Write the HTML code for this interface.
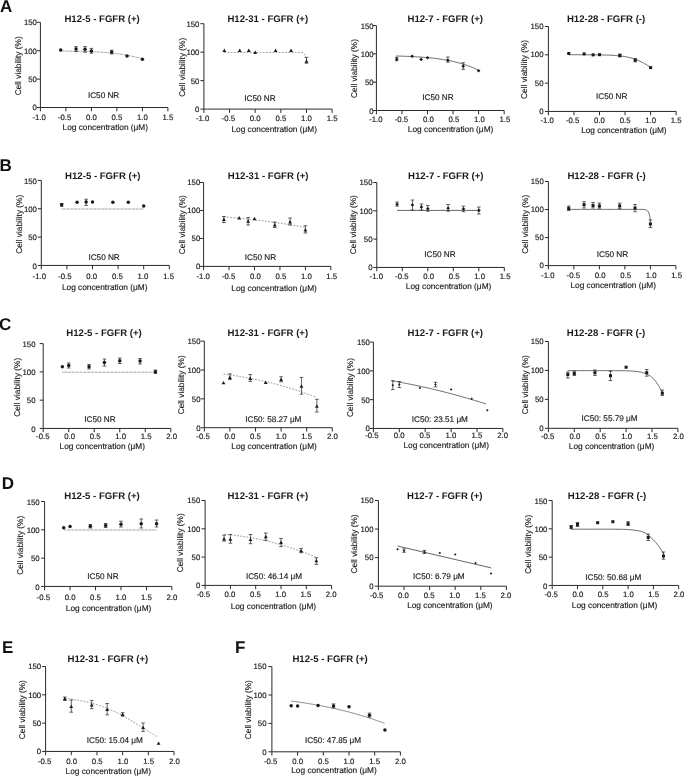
<!DOCTYPE html>
<html><head><meta charset="utf-8"><style>
html,body{margin:0;padding:0;background:#fff;}
body{width:685px;height:776px;overflow:hidden;}
svg{display:block;filter:grayscale(1);}
text{font-family:"Liberation Sans",sans-serif;fill:#1a1a1a;text-rendering:geometricPrecision;}
.t{font-size:7.8px;stroke:#1a1a1a;stroke-width:0.16px;}
.a{font-size:8.3px;stroke:#1a1a1a;stroke-width:0.15px;}
.h{font-size:9.6px;font-weight:bold;}
.n{font-size:8.2px;stroke:#1a1a1a;stroke-width:0.15px;}
.p{font-size:17px;font-weight:bold;fill:#111;}
.ax{fill:none;stroke:#2a2a2a;stroke-width:1;}
.eb{fill:none;stroke:#222;stroke-width:0.7;}
.mk{fill:#1a1a1a;}
.cl{fill:none;stroke:#333;stroke-width:0.75;}
.cd{fill:none;stroke:#6a6a6a;stroke-width:0.9;stroke-dasharray:0.75 0.6;}
.cs{fill:none;stroke:#6e6e6e;stroke-width:0.75;stroke-dasharray:1.7 1.5;}
.cf{fill:none;stroke:#555;stroke-width:0.7;}
</style></head><body>
<svg width="685" height="776" viewBox="0 0 685 776">
<g><path class="ax" d="M40.4 22.3V107.5H167.9M36.9 107.5H40.4M36.9 79.1H40.4M36.9 50.7H40.4M36.9 22.3H40.4M40.4 107.5v3.8M65.9 107.5v3.8M91.4 107.5v3.8M116.9 107.5v3.8M142.4 107.5v3.8M167.9 107.5v3.8"/><text class="t" x="36.9" y="110.37" text-anchor="end">0</text><text class="t" x="36.9" y="81.97" text-anchor="end">50</text><text class="t" x="36.9" y="53.57" text-anchor="end">100</text><text class="t" x="36.9" y="25.17" text-anchor="end">150</text><text class="t" x="45.82" y="119.8" text-anchor="end">-1.0</text><text class="t" x="71.32" y="119.8" text-anchor="end">-0.5</text><text class="t" x="96.82" y="119.8" text-anchor="end">0.0</text><text class="t" x="122.32" y="119.8" text-anchor="end">0.5</text><text class="t" x="147.82" y="119.8" text-anchor="end">1.0</text><text class="t" x="173.32" y="119.8" text-anchor="end">1.5</text><text class="a" x="105.3" y="130.4" text-anchor="middle">Log concentration (μM)</text><text class="a" transform="translate(20.8 65.85) rotate(-90)" text-anchor="middle">Cell viability (%)</text><text class="h" x="64.4" y="21.9">H12-5 - FGFR (+)</text><text class="n" x="87.9" y="97.82">IC50 NR</text><path class="cd" d="M60.6 51.04L61.52 51.05L62.45 51.06L63.37 51.07L64.3 51.08L65.22 51.08L66.15 51.09L67.07 51.1L68 51.11L68.92 51.13L69.85 51.14L70.77 51.15L71.7 51.16L72.62 51.17L73.55 51.19L74.47 51.2L75.4 51.22L76.32 51.23L77.24 51.25L78.17 51.27L79.09 51.29L80.02 51.31L80.94 51.33L81.87 51.35L82.77 51.37L83.67 51.4L84.57 51.42L85.47 51.45L86.37 51.47L87.27 51.5L88.17 51.53L89.07 51.56L89.97 51.6L90.87 51.63L91.77 51.67L92.67 51.7L93.56 51.74L94.46 51.79L95.36 51.83L96.26 51.87L97.16 51.92L98.06 51.97L98.96 52.02L99.86 52.08L100.76 52.13L101.66 52.19L102.56 52.25L103.46 52.32L104.36 52.39L105.26 52.46L106.16 52.53L107.06 52.6L107.96 52.68L108.86 52.77L109.76 52.85L110.66 52.94L111.56 53.04L112.46 53.13L113.36 53.23L114.26 53.34L115.16 53.45L116.06 53.56L116.96 53.68L117.86 53.8L118.76 53.92L119.66 54.05L120.56 54.19L121.46 54.32L122.36 54.47L123.26 54.61L124.16 54.77L125.06 54.92L125.96 55.08L126.85 55.25L127.75 55.42L128.65 55.59L129.55 55.77L130.45 55.95L131.35 56.14L132.25 56.33L133.15 56.53L134.05 56.73L134.95 56.93L135.85 57.14L136.75 57.35L137.65 57.56L138.55 57.78L139.43 57.99L140.3 58.2L141.18 58.42L142.05 58.64L142.6 58.78"/><path class="eb" d="M76.05 46.6V51.6M74.25 46.6h3.6M74.25 51.6h3.6M85.03 46.6V52.2M83.23 46.6h3.6M83.23 52.2h3.6M91.4 48.4V53.2M89.6 48.4h3.6M89.6 53.2h3.6M111.7 50.2V54M109.9 50.2h3.6M109.9 54h3.6"/><g class="mk"><circle cx="60.7" cy="50.1" r="1.75"/><circle cx="76.05" cy="49.1" r="1.75"/><circle cx="85.03" cy="49.3" r="1.75"/><circle cx="91.4" cy="50.9" r="1.75"/><circle cx="111.7" cy="52.1" r="1.75"/><circle cx="127.05" cy="56" r="1.75"/><circle cx="142.4" cy="59.2" r="1.75"/></g></g>
<g><path class="ax" d="M203.9 23.7V109.1H332.15M200.4 109.1H203.9M200.4 80.63H203.9M200.4 52.17H203.9M200.4 23.7H203.9M203.9 109.1v3.8M229.55 109.1v3.8M255.2 109.1v3.8M280.85 109.1v3.8M306.5 109.1v3.8M332.15 109.1v3.8"/><text class="t" x="199.4" y="112.12" text-anchor="end">0</text><text class="t" x="199.4" y="83.65" text-anchor="end">50</text><text class="t" x="199.4" y="55.19" text-anchor="end">100</text><text class="t" x="199.4" y="26.72" text-anchor="end">150</text><text class="t" x="209.32" y="121" text-anchor="end">-1.0</text><text class="t" x="234.97" y="121" text-anchor="end">-0.5</text><text class="t" x="260.62" y="121" text-anchor="end">0.0</text><text class="t" x="286.27" y="121" text-anchor="end">0.5</text><text class="t" x="311.92" y="121" text-anchor="end">1.0</text><text class="t" x="337.57" y="121" text-anchor="end">1.5</text><text class="a" x="274.2" y="131.5" text-anchor="middle">Log concentration (μM)</text><text class="a" transform="translate(184.5 67.25) rotate(-90)" text-anchor="middle">Cell viability (%)</text><text class="h" x="227.4" y="21.9">H12-31 - FGFR (+)</text><text class="n" x="244.2" y="100.82">IC50 NR</text><path class="cs" d="M224.4 52.5L225.3 52.5L226.2 52.5L227.12 52.5L228.03 52.5L228.93 52.5L229.83 52.5L230.75 52.5L231.65 52.5L232.55 52.5L233.47 52.5L234.38 52.5L235.28 52.5L236.18 52.5L237.1 52.5L238 52.5L238.9 52.5L239.8 52.5L240.72 52.5L241.62 52.5L242.53 52.5L243.43 52.5L244.35 52.5L245.25 52.5L246.15 52.5L247.05 52.5L247.97 52.5L248.88 52.5L249.78 52.5L250.68 52.5L251.6 52.5L252.5 52.5L253.4 52.5L254.32 52.5L255.22 52.5L256.12 52.5L257.05 52.5L257.98 52.5L258.9 52.5L259.8 52.5L260.73 52.5L261.65 52.5L262.55 52.5L263.48 52.5L264.4 52.5L265.3 52.5L266.22 52.5L267.12 52.5L268.05 52.5L268.97 52.5L269.88 52.5L270.8 52.5L271.72 52.5L272.62 52.5L273.55 52.5L274.47 52.5L275.38 52.5L276.3 52.5L277.22 52.5L278.12 52.5L279.05 52.5L279.95 52.5L280.88 52.5L281.8 52.5L282.7 52.5L283.62 52.5L284.55 52.5L285.45 52.5L286.38 52.5L287.3 52.5L288.2 52.5L289.12 52.5L290.05 52.5L290.95 52.5L291.88 52.5L292.8 52.5L293.7 52.5L294.62 52.5L295.55 52.5L296.45 52.5L297.38 52.5L298.3 52.5L299.2 52.5L300.12 52.5L301.02 52.51L301.92 52.57L302.82 52.75L303.6 53.23L304.2 53.95L304.72 54.74L305.17 55.54L305.55 56.38L305.88 57.23L306.17 58.09L306.4 58.8"/><path class="eb" d="M306.5 57.4V63.2M304.7 57.4h3.6M304.7 63.2h3.6"/><g class="mk"><path d="M224.32 48.6L226.22 52.02L222.42 52.02Z"/><path d="M239.76 48.6L241.66 52.02L237.86 52.02Z"/><path d="M248.79 48.6L250.69 52.02L246.89 52.02Z"/><path d="M255.2 50.6L257.1 54.02L253.3 54.02Z"/><path d="M275.62 48.6L277.52 52.02L273.72 52.02Z"/><path d="M291.06 48.6L292.96 52.02L289.16 52.02Z"/><path d="M306.5 59.3L308.4 62.72L304.6 62.72Z"/></g></g>
<g><path class="ax" d="M376.4 25.5V110.5H504.15M372.9 110.5H376.4M372.9 82.17H376.4M372.9 53.83H376.4M372.9 25.5H376.4M376.4 110.5v3.8M401.95 110.5v3.8M427.5 110.5v3.8M453.05 110.5v3.8M478.6 110.5v3.8M504.15 110.5v3.8"/><text class="t" x="373.7" y="113.77" text-anchor="end">0</text><text class="t" x="373.7" y="85.44" text-anchor="end">50</text><text class="t" x="373.7" y="57.1" text-anchor="end">100</text><text class="t" x="373.7" y="28.77" text-anchor="end">150</text><text class="t" x="382.62" y="122.4" text-anchor="end">-1.0</text><text class="t" x="408.17" y="122.4" text-anchor="end">-0.5</text><text class="t" x="433.72" y="122.4" text-anchor="end">0.0</text><text class="t" x="459.27" y="122.4" text-anchor="end">0.5</text><text class="t" x="484.82" y="122.4" text-anchor="end">1.0</text><text class="t" x="510.37" y="122.4" text-anchor="end">1.5</text><text class="a" x="450.6" y="132" text-anchor="middle">Log concentration (μM)</text><text class="a" transform="translate(356.5 68.55) rotate(-90)" text-anchor="middle">Cell viability (%)</text><text class="h" x="407.5" y="21.9">H12-7 - FGFR (+)</text><text class="n" x="422.2" y="100.02">IC50 NR</text><path class="cl" d="M395.8 55.99L396.7 56.01L397.6 56.04L398.5 56.06L399.4 56.09L400.3 56.12L401.2 56.14L402.1 56.17L403 56.2L403.9 56.23L404.8 56.27L405.7 56.3L406.6 56.33L407.5 56.37L408.4 56.41L409.3 56.45L410.2 56.49L411.1 56.53L412 56.57L412.89 56.62L413.79 56.66L414.69 56.71L415.59 56.76L416.49 56.81L417.39 56.87L418.29 56.92L419.19 56.98L420.09 57.04L420.99 57.1L421.89 57.17L422.79 57.23L423.69 57.3L424.59 57.37L425.49 57.45L426.39 57.52L427.29 57.6L428.19 57.68L429.09 57.77L429.99 57.86L430.89 57.95L431.79 58.04L432.69 58.14L433.59 58.24L434.49 58.34L435.39 58.45L436.29 58.56L437.19 58.68L438.09 58.8L438.99 58.92L439.89 59.05L440.79 59.18L441.69 59.31L442.59 59.45L443.49 59.6L444.39 59.75L445.29 59.9L446.18 60.06L447.08 60.23L447.98 60.39L448.88 60.57L449.78 60.75L450.68 60.94L451.58 61.13L452.48 61.33L453.38 61.53L454.28 61.74L455.18 61.96L456.06 62.17L456.93 62.39L457.81 62.62L458.68 62.86L459.56 63.1L460.43 63.35L461.31 63.6L462.18 63.86L463.05 64.13L463.93 64.41L464.8 64.69L465.68 64.98L466.55 65.27L467.43 65.58L468.28 65.88L469.13 66.19L469.98 66.5L470.83 66.83L471.68 67.16L472.53 67.49L473.38 67.84L474.23 68.19L475.08 68.55L475.93 68.91L476.75 69.27L477.58 69.64L478.4 70.01L478.6 70.1"/><path class="eb" d="M396.74 57.4V60.8M394.94 57.4h3.6M394.94 60.8h3.6M447.84 57V62.2M446.04 57h3.6M446.04 62.2h3.6M463.22 62.8V69.4M461.42 62.8h3.6M461.42 69.4h3.6"/><g class="mk"><path d="M396.74 57.4L398.54 59.2L396.74 61L394.94 59.2Z"/><path d="M412.12 54.5L413.92 56.3L412.12 58.1L410.32 56.3Z"/><path d="M421.11 57.6L422.91 59.4L421.11 61.2L419.31 59.4Z"/><path d="M427.5 56L429.3 57.8L427.5 59.6L425.7 57.8Z"/><path d="M447.84 58.4L449.64 60.2L447.84 62L446.04 60.2Z"/><path d="M463.22 64.4L465.02 66.2L463.22 68L461.42 66.2Z"/><path d="M478.6 68.9L480.4 70.7L478.6 72.5L476.8 70.7Z"/></g></g>
<g><path class="ax" d="M548.4 26.5V111.45H676.15M544.9 111.45H548.4M544.9 83.13H548.4M544.9 54.82H548.4M544.9 26.5H548.4M548.4 111.45v3.8M573.95 111.45v3.8M599.5 111.45v3.8M625.05 111.45v3.8M650.6 111.45v3.8M676.15 111.45v3.8"/><text class="t" x="543.5" y="114.12" text-anchor="end">0</text><text class="t" x="543.5" y="85.8" text-anchor="end">50</text><text class="t" x="543.5" y="57.49" text-anchor="end">100</text><text class="t" x="543.5" y="29.17" text-anchor="end">150</text><text class="t" x="553.82" y="122.8" text-anchor="end">-1.0</text><text class="t" x="579.37" y="122.8" text-anchor="end">-0.5</text><text class="t" x="604.92" y="122.8" text-anchor="end">0.0</text><text class="t" x="630.47" y="122.8" text-anchor="end">0.5</text><text class="t" x="656.02" y="122.8" text-anchor="end">1.0</text><text class="t" x="681.57" y="122.8" text-anchor="end">1.5</text><text class="a" x="623.9" y="133" text-anchor="middle">Log concentration (μM)</text><text class="a" transform="translate(526.9 69.45) rotate(-90)" text-anchor="middle">Cell viability (%)</text><text class="h" x="566.9" y="21.9">H12-28 - FGFR (-)</text><text class="n" x="596" y="99.32">IC50 NR</text><path class="cl" d="M568.8 54.73L569.72 54.73L570.65 54.73L571.57 54.73L572.5 54.73L573.42 54.73L574.35 54.74L575.27 54.74L576.2 54.74L577.12 54.74L578.05 54.74L578.97 54.74L579.9 54.75L580.82 54.75L581.75 54.75L582.67 54.75L583.6 54.76L584.52 54.76L585.44 54.76L586.37 54.77L587.29 54.77L588.22 54.78L589.14 54.78L590.07 54.79L590.99 54.79L591.92 54.8L592.84 54.81L593.77 54.82L594.69 54.83L595.62 54.84L596.54 54.85L597.47 54.86L598.39 54.87L599.32 54.89L600.24 54.9L601.17 54.92L602.09 54.94L603.01 54.96L603.94 54.98L604.84 55L605.74 55.03L606.64 55.06L607.54 55.09L608.44 55.12L609.34 55.16L610.24 55.19L611.14 55.24L612.04 55.28L612.94 55.33L613.84 55.39L614.74 55.45L615.64 55.51L616.54 55.59L617.44 55.66L618.33 55.75L619.23 55.84L620.13 55.93L621.03 56.04L621.93 56.16L622.83 56.28L623.73 56.41L624.63 56.56L625.53 56.71L626.43 56.88L627.33 57.06L628.23 57.26L629.13 57.46L630.01 57.68L630.88 57.91L631.76 58.16L632.63 58.42L633.51 58.7L634.38 58.99L635.23 59.3L636.08 59.62L636.93 59.95L637.78 60.3L638.63 60.67L639.45 61.04L640.28 61.43L641.1 61.83L641.93 62.25L642.73 62.66L643.53 63.09L644.33 63.53L645.13 63.97L645.93 64.43L646.73 64.89L647.53 65.36L648.3 65.82L649.08 66.29L649.85 66.75L650.6 67.2"/><path class="eb" d="M619.84 54V57M618.04 54h3.6M618.04 57h3.6M635.22 58.6V61.8M633.42 58.6h3.6M633.42 61.8h3.6"/><g class="mk"><rect x="567.24" y="52" width="3" height="3"/><rect x="582.62" y="52.4" width="3" height="3"/><rect x="591.61" y="53.4" width="3" height="3"/><rect x="598" y="53.2" width="3" height="3"/><rect x="618.34" y="54" width="3" height="3"/><rect x="633.72" y="58.7" width="3" height="3"/><rect x="649.1" y="66.1" width="3" height="3"/></g></g>
<g><path class="ax" d="M41.3 180.4V265.45H169.3M37.8 265.45H41.3M37.8 237.1H41.3M37.8 208.75H41.3M37.8 180.4H41.3M41.3 265.45v3.8M66.9 265.45v3.8M92.5 265.45v3.8M118.1 265.45v3.8M143.7 265.45v3.8M169.3 265.45v3.8"/><text class="t" x="36.9" y="268.72" text-anchor="end">0</text><text class="t" x="36.9" y="240.37" text-anchor="end">50</text><text class="t" x="36.9" y="212.02" text-anchor="end">100</text><text class="t" x="36.9" y="183.67" text-anchor="end">150</text><text class="t" x="45.97" y="278.5" text-anchor="end">-1.0</text><text class="t" x="71.57" y="278.5" text-anchor="end">-0.5</text><text class="t" x="97.17" y="278.5" text-anchor="end">0.0</text><text class="t" x="122.77" y="278.5" text-anchor="end">0.5</text><text class="t" x="148.37" y="278.5" text-anchor="end">1.0</text><text class="t" x="173.97" y="278.5" text-anchor="end">1.5</text><text class="a" x="104.7" y="290" text-anchor="middle">Log concentration (μM)</text><text class="a" transform="translate(21.5 224.25) rotate(-90)" text-anchor="middle">Cell viability (%)</text><text class="h" x="65.1" y="179">H12-5 - FGFR (+)</text><text class="n" x="88.4" y="259.52">IC50 NR</text><path class="cd" d="M61.6 209L144 209"/><path class="eb" d="M61.68 203.5V206.3M59.88 203.5h3.6M59.88 206.3h3.6M86.1 199.2V205.4M84.3 199.2h3.6M84.3 205.4h3.6"/><g class="mk"><circle cx="61.68" cy="204.8" r="1.75"/><circle cx="77.09" cy="202.2" r="1.75"/><circle cx="86.1" cy="202" r="1.75"/><circle cx="92.5" cy="202" r="1.75"/><circle cx="112.88" cy="202.2" r="1.75"/><circle cx="128.29" cy="202.2" r="1.75"/><circle cx="143.7" cy="206" r="1.75"/></g></g>
<g><path class="ax" d="M203.6 182.5V266.4H330.85M200.1 266.4H203.6M200.1 238.43H203.6M200.1 210.47H203.6M200.1 182.5H203.6M203.6 266.4v3.8M229.05 266.4v3.8M254.5 266.4v3.8M279.95 266.4v3.8M305.4 266.4v3.8M330.85 266.4v3.8"/><text class="t" x="200.3" y="268.72" text-anchor="end">0</text><text class="t" x="200.3" y="240.75" text-anchor="end">50</text><text class="t" x="200.3" y="212.79" text-anchor="end">100</text><text class="t" x="200.3" y="184.82" text-anchor="end">150</text><text class="t" x="209.92" y="278.9" text-anchor="end">-1.0</text><text class="t" x="235.37" y="278.9" text-anchor="end">-0.5</text><text class="t" x="260.82" y="278.9" text-anchor="end">0.0</text><text class="t" x="286.27" y="278.9" text-anchor="end">0.5</text><text class="t" x="311.72" y="278.9" text-anchor="end">1.0</text><text class="t" x="337.17" y="278.9" text-anchor="end">1.5</text><text class="a" x="274.1" y="290.5" text-anchor="middle">Log concentration (μM)</text><text class="a" transform="translate(184.8 224.65) rotate(-90)" text-anchor="middle">Cell viability (%)</text><text class="h" x="227.8" y="179">H12-31 - FGFR (+)</text><text class="n" x="244.8" y="259.52">IC50 NR</text><path class="cs" d="M223.7 216.71L224.6 216.79L225.5 216.87L226.4 216.95L227.3 217.04L228.2 217.12L229.1 217.2L230 217.29L230.9 217.37L231.8 217.46L232.7 217.54L233.6 217.63L234.5 217.72L235.4 217.81L236.3 217.9L237.2 217.99L238.1 218.08L239 218.17L239.9 218.26L240.79 218.35L241.69 218.45L242.59 218.54L243.49 218.64L244.39 218.73L245.29 218.83L246.19 218.93L247.09 219.02L247.99 219.12L248.89 219.22L249.79 219.32L250.69 219.42L251.59 219.53L252.49 219.63L253.39 219.73L254.29 219.84L255.19 219.94L256.09 220.05L256.99 220.16L257.89 220.26L258.79 220.37L259.69 220.48L260.59 220.59L261.49 220.71L262.39 220.82L263.29 220.93L264.19 221.04L265.09 221.16L265.99 221.28L266.89 221.39L267.79 221.51L268.69 221.63L269.59 221.75L270.49 221.87L271.39 221.99L272.29 222.11L273.18 222.24L274.08 222.36L274.98 222.49L275.88 222.61L276.78 222.74L277.68 222.87L278.58 223L279.48 223.13L280.38 223.26L281.28 223.39L282.18 223.53L283.08 223.66L283.98 223.8L284.88 223.94L285.78 224.07L286.68 224.21L287.58 224.35L288.48 224.49L289.38 224.64L290.28 224.78L291.18 224.93L292.08 225.07L292.98 225.22L293.88 225.37L294.78 225.52L295.68 225.67L296.58 225.82L297.48 225.97L298.38 226.13L299.28 226.28L300.18 226.44L301.08 226.6L301.98 226.76L302.88 226.92L303.78 227.08L304.68 227.24L305.58 227.41L306 227.48"/><path class="eb" d="M223.86 216.5V222.5M222.06 216.5h3.6M222.06 222.5h3.6M248.14 217.5V225M246.34 217.5h3.6M246.34 225h3.6M274.76 222V227.5M272.96 222h3.6M272.96 227.5h3.6M290.08 218V225M288.28 218h3.6M288.28 225h3.6M305.4 225.7V233M303.6 225.7h3.6M303.6 233h3.6"/><g class="mk"><path d="M223.86 217.6L225.76 221.02L221.96 221.02Z"/><path d="M239.18 216.1L241.08 219.52L237.28 219.52Z"/><path d="M248.14 219.3L250.04 222.72L246.24 222.72Z"/><path d="M254.5 216.8L256.4 220.22L252.6 220.22Z"/><path d="M274.76 223.1L276.66 226.52L272.86 226.52Z"/><path d="M290.08 220.1L291.98 223.52L288.18 223.52Z"/><path d="M305.4 228.1L307.3 231.52L303.5 231.52Z"/></g></g>
<g><path class="ax" d="M376.8 182.5V267.45H504.3M373.3 267.45H376.8M373.3 239.13H376.8M373.3 210.82H376.8M373.3 182.5H376.8M376.8 267.45v3.8M402.3 267.45v3.8M427.8 267.45v3.8M453.3 267.45v3.8M478.8 267.45v3.8M504.3 267.45v3.8"/><text class="t" x="372.5" y="270.32" text-anchor="end">0</text><text class="t" x="372.5" y="242" text-anchor="end">50</text><text class="t" x="372.5" y="213.69" text-anchor="end">100</text><text class="t" x="372.5" y="185.37" text-anchor="end">150</text><text class="t" x="382.97" y="279" text-anchor="end">-1.0</text><text class="t" x="408.47" y="279" text-anchor="end">-0.5</text><text class="t" x="433.97" y="279" text-anchor="end">0.0</text><text class="t" x="459.47" y="279" text-anchor="end">0.5</text><text class="t" x="484.97" y="279" text-anchor="end">1.0</text><text class="t" x="510.47" y="279" text-anchor="end">1.5</text><text class="a" x="448.6" y="289.2" text-anchor="middle">Log concentration (μM)</text><text class="a" transform="translate(355.9 224.65) rotate(-90)" text-anchor="middle">Cell viability (%)</text><text class="h" x="408.1" y="179">H12-7 - FGFR (+)</text><text class="n" x="424.3" y="257.02">IC50 NR</text><path class="cl" d="M397 210.4L480.5 210.4"/><path class="eb" d="M397.1 202V206.2M395.3 202h3.6M395.3 206.2h3.6M412.45 200V210M410.65 200h3.6M410.65 210h3.6M421.43 204V210M419.62 204h3.6M419.62 210h3.6M427.8 205.5V211.2M426 205.5h3.6M426 211.2h3.6M448.1 204.5V211.2M446.3 204.5h3.6M446.3 211.2h3.6M463.45 206.2V211.7M461.65 206.2h3.6M461.65 211.7h3.6M478.8 207V214M477 207h3.6M477 214h3.6"/><g class="mk"><path d="M397.1 202.4L398.9 204.2L397.1 206L395.3 204.2Z"/><path d="M412.45 203.2L414.25 205L412.45 206.8L410.65 205Z"/><path d="M421.43 205.2L423.23 207L421.43 208.8L419.62 207Z"/><path d="M427.8 206.9L429.6 208.7L427.8 210.5L426 208.7Z"/><path d="M448.1 206.4L449.9 208.2L448.1 210L446.3 208.2Z"/><path d="M463.45 207.2L465.25 209L463.45 210.8L461.65 209Z"/><path d="M478.8 208.6L480.6 210.4L478.8 212.2L477 210.4Z"/></g></g>
<g><path class="ax" d="M548.4 181.5V265.6H675.9M544.9 265.6H548.4M544.9 237.57H548.4M544.9 209.53H548.4M544.9 181.5H548.4M548.4 265.6v3.8M573.9 265.6v3.8M599.4 265.6v3.8M624.9 265.6v3.8M650.4 265.6v3.8M675.9 265.6v3.8"/><text class="t" x="543.8" y="268.32" text-anchor="end">0</text><text class="t" x="543.8" y="240.29" text-anchor="end">50</text><text class="t" x="543.8" y="212.25" text-anchor="end">100</text><text class="t" x="543.8" y="184.22" text-anchor="end">150</text><text class="t" x="554.47" y="277.9" text-anchor="end">-1.0</text><text class="t" x="579.97" y="277.9" text-anchor="end">-0.5</text><text class="t" x="605.47" y="277.9" text-anchor="end">0.0</text><text class="t" x="630.97" y="277.9" text-anchor="end">0.5</text><text class="t" x="656.47" y="277.9" text-anchor="end">1.0</text><text class="t" x="681.97" y="277.9" text-anchor="end">1.5</text><text class="a" x="613.2" y="288" text-anchor="middle">Log concentration (μM)</text><text class="a" transform="translate(528.2 224.25) rotate(-90)" text-anchor="middle">Cell viability (%)</text><text class="h" x="567.4" y="179">H12-28 - FGFR (-)</text><text class="n" x="596.8" y="257.02">IC50 NR</text><path class="cl" d="M568.7 209.4L569.62 209.4L570.53 209.4L571.45 209.4L572.38 209.4L573.28 209.4L574.2 209.4L575.12 209.4L576.03 209.4L576.95 209.4L577.88 209.4L578.78 209.4L579.7 209.4L580.62 209.4L581.53 209.4L582.45 209.4L583.38 209.4L584.28 209.4L585.2 209.4L586.12 209.4L587.05 209.4L587.98 209.4L588.9 209.4L589.8 209.4L590.73 209.4L591.65 209.4L592.55 209.4L593.48 209.4L594.4 209.4L595.3 209.4L596.23 209.4L597.15 209.4L598.05 209.4L598.98 209.4L599.9 209.4L600.8 209.4L601.73 209.4L602.65 209.4L603.55 209.4L604.48 209.4L605.4 209.4L606.3 209.4L607.23 209.4L608.15 209.4L609.08 209.4L610 209.4L610.92 209.4L611.83 209.4L612.75 209.4L613.67 209.4L614.58 209.4L615.5 209.4L616.42 209.4L617.33 209.4L618.25 209.4L619.17 209.4L620.08 209.4L621 209.4L621.92 209.4L622.83 209.4L623.75 209.4L624.67 209.4L625.58 209.4L626.5 209.4L627.42 209.4L628.33 209.4L629.25 209.4L630.17 209.4L631.08 209.4L632 209.4L632.92 209.4L633.83 209.4L634.75 209.4L635.67 209.4L636.58 209.4L637.5 209.4L638.42 209.4L639.33 209.4L640.25 209.4L641.17 209.4L642.08 209.4L642.98 209.41L643.88 209.49L644.77 209.61L645.65 209.84L646.5 210.19L647.25 210.69L647.9 211.34L648.4 212.13L648.83 212.97L649.17 213.88L649.45 214.78L649.65 215.67L649.83 216.58L650 217.59L650.15 218.56L650.3 219.64L650.4 220.4"/><path class="eb" d="M568.7 206V210.5M566.9 206h3.6M566.9 210.5h3.6M584.05 201.7V208M582.25 201.7h3.6M582.25 208h3.6M593.02 202.5V208M591.23 202.5h3.6M591.23 208h3.6M599.4 203V208.2M597.6 203h3.6M597.6 208.2h3.6M619.7 203.2V208.7M617.9 203.2h3.6M617.9 208.7h3.6M635.05 204.5V211.7M633.25 204.5h3.6M633.25 211.7h3.6M650.4 220V227.5M648.6 220h3.6M648.6 227.5h3.6"/><g class="mk"><rect x="567.2" y="207" width="3" height="3"/><rect x="582.55" y="203.2" width="3" height="3"/><rect x="591.52" y="204" width="3" height="3"/><rect x="597.9" y="204.5" width="3" height="3"/><rect x="618.2" y="204.5" width="3" height="3"/><rect x="633.55" y="206.5" width="3" height="3"/><rect x="648.9" y="222.5" width="3" height="3"/></g></g>
<g><path class="ax" d="M43.2 343.6V428.45H170.8M39.7 428.45H43.2M39.7 400.17H43.2M39.7 371.88H43.2M39.7 343.6H43.2M43.2 428.45v3.8M68.72 428.45v3.8M94.24 428.45v3.8M119.76 428.45v3.8M145.28 428.45v3.8M170.8 428.45v3.8"/><text class="t" x="35.5" y="431.72" text-anchor="end">0</text><text class="t" x="35.5" y="403.44" text-anchor="end">50</text><text class="t" x="35.5" y="375.15" text-anchor="end">100</text><text class="t" x="35.5" y="346.87" text-anchor="end">150</text><text class="t" x="49.47" y="439.3" text-anchor="end">-0.5</text><text class="t" x="74.99" y="439.3" text-anchor="end">0.0</text><text class="t" x="100.51" y="439.3" text-anchor="end">0.5</text><text class="t" x="126.03" y="439.3" text-anchor="end">1.0</text><text class="t" x="151.55" y="439.3" text-anchor="end">1.5</text><text class="t" x="177.07" y="439.3" text-anchor="end">2.0</text><text class="a" x="102.3" y="449.3" text-anchor="middle">Log concentration (μM)</text><text class="a" transform="translate(19.8 387.25) rotate(-90)" text-anchor="middle">Cell viability (%)</text><text class="h" x="66.3" y="335.7">H12-5 - FGFR (+)</text><text class="n" x="84.3" y="422.02">IC50 NR</text><path class="cd" d="M62.4 372.2L156 372.2"/><path class="eb" d="M68.72 363V368M66.92 363h3.6M66.92 368h3.6M89.03 364.5V369M87.23 364.5h3.6M87.23 369h3.6M104.4 359V366M102.6 359h3.6M102.6 366h3.6M119.76 358V363.5M117.96 358h3.6M117.96 363.5h3.6M140.07 358.5V364M138.27 358.5h3.6M138.27 364h3.6M155.44 370V373.5M153.64 370h3.6M153.64 373.5h3.6"/><g class="mk"><circle cx="62.34" cy="366.7" r="1.75"/><circle cx="68.72" cy="365.5" r="1.75"/><circle cx="89.03" cy="366.7" r="1.75"/><circle cx="104.4" cy="362.5" r="1.75"/><circle cx="119.76" cy="360.7" r="1.75"/><circle cx="140.07" cy="361" r="1.75"/><circle cx="155.44" cy="371.7" r="1.75"/></g></g>
<g><path class="ax" d="M204.3 341.1V427.7H332.3M200.8 427.7H204.3M200.8 398.83H204.3M200.8 369.97H204.3M200.8 341.1H204.3M204.3 427.7v3.8M229.9 427.7v3.8M255.5 427.7v3.8M281.1 427.7v3.8M306.7 427.7v3.8M332.3 427.7v3.8"/><text class="t" x="200.5" y="430.92" text-anchor="end">0</text><text class="t" x="200.5" y="402.05" text-anchor="end">50</text><text class="t" x="200.5" y="373.19" text-anchor="end">100</text><text class="t" x="200.5" y="344.32" text-anchor="end">150</text><text class="t" x="209.72" y="439.2" text-anchor="end">-0.5</text><text class="t" x="235.32" y="439.2" text-anchor="end">0.0</text><text class="t" x="260.92" y="439.2" text-anchor="end">0.5</text><text class="t" x="286.52" y="439.2" text-anchor="end">1.0</text><text class="t" x="312.12" y="439.2" text-anchor="end">1.5</text><text class="t" x="337.72" y="439.2" text-anchor="end">2.0</text><text class="a" x="274.1" y="448.7" text-anchor="middle">Log concentration (μM)</text><text class="a" transform="translate(183.9 384.85) rotate(-90)" text-anchor="middle">Cell viability (%)</text><text class="h" x="227.4" y="335.7">H12-31 - FGFR (+)</text><text class="n" x="245.3" y="421.82">IC50: 58.27 μM</text><path class="cs" d="M223.6 374.08L224.5 374.2L225.4 374.32L226.3 374.45L227.2 374.57L228.1 374.7L229 374.83L229.9 374.96L230.8 375.1L231.7 375.23L232.6 375.37L233.5 375.51L234.4 375.65L235.3 375.79L236.2 375.93L237.1 376.07L238 376.22L238.9 376.37L239.8 376.52L240.7 376.67L241.6 376.82L242.5 376.98L243.4 377.14L244.3 377.3L245.2 377.46L246.1 377.62L247 377.78L247.9 377.95L248.8 378.12L249.7 378.29L250.6 378.46L251.5 378.63L252.4 378.81L253.3 378.99L254.2 379.17L255.1 379.35L256 379.54L256.9 379.72L257.8 379.91L258.7 380.1L259.6 380.29L260.5 380.49L261.4 380.69L262.3 380.88L263.2 381.09L264.1 381.29L265 381.49L265.9 381.7L266.8 381.91L267.7 382.13L268.6 382.34L269.47 382.55L270.35 382.76L271.22 382.98L272.1 383.2L272.97 383.42L273.85 383.64L274.72 383.86L275.6 384.09L276.47 384.32L277.35 384.55L278.22 384.78L279.1 385.02L279.97 385.26L280.85 385.5L281.72 385.74L282.6 385.99L283.47 386.24L284.35 386.49L285.22 386.74L286.1 386.99L286.97 387.25L287.85 387.51L288.72 387.77L289.6 388.04L290.47 388.3L291.35 388.57L292.22 388.85L293.1 389.12L293.97 389.4L294.85 389.68L295.72 389.96L296.6 390.25L297.47 390.53L298.35 390.82L299.22 391.12L300.1 391.41L300.97 391.71L301.85 392.01L302.72 392.31L303.57 392.61L304.42 392.91L305.27 393.21L306.12 393.51L306.97 393.82L307.82 394.13L308.67 394.44L309.52 394.76L310.38 395.07L311.22 395.39L312.07 395.71L312.92 396.04L313.77 396.37L314.62 396.69L315.47 397.03L316.32 397.36L316.4 397.39"/><path class="eb" d="M229.9 373.8V379.6M228.1 373.8h3.6M228.1 379.6h3.6M250.28 374.5V381.4M248.48 374.5h3.6M248.48 381.4h3.6M281.1 376.7V381.8M279.3 376.7h3.6M279.3 381.8h3.6M301.48 377.4V394.2M299.68 377.4h3.6M299.68 394.2h3.6M316.89 399.3V412M315.09 399.3h3.6M315.09 412h3.6"/><g class="mk"><path d="M223.5 380.9L225.4 384.32L221.6 384.32Z"/><path d="M229.9 375.5L231.8 378.92L228 378.92Z"/><path d="M250.28 376.5L252.18 379.92L248.38 379.92Z"/><path d="M265.69 380.6L267.59 384.02L263.79 384.02Z"/><path d="M281.1 377.7L283 381.12L279.2 381.12Z"/><path d="M301.48 384.3L303.38 387.72L299.58 387.72Z"/><path d="M316.89 404.4L318.79 407.82L314.99 407.82Z"/></g></g>
<g><path class="ax" d="M373.4 342.1V428.45H502.9M369.9 428.45H373.4M369.9 399.67H373.4M369.9 370.88H373.4M369.9 342.1H373.4M373.4 428.45v3.8M399.3 428.45v3.8M425.2 428.45v3.8M451.1 428.45v3.8M477 428.45v3.8M502.9 428.45v3.8"/><text class="t" x="369.9" y="431.42" text-anchor="end">0</text><text class="t" x="369.9" y="402.64" text-anchor="end">50</text><text class="t" x="369.9" y="373.85" text-anchor="end">100</text><text class="t" x="369.9" y="345.07" text-anchor="end">150</text><text class="t" x="378.62" y="438" text-anchor="end">-0.5</text><text class="t" x="404.52" y="438" text-anchor="end">0.0</text><text class="t" x="430.42" y="438" text-anchor="end">0.5</text><text class="t" x="456.32" y="438" text-anchor="end">1.0</text><text class="t" x="482.22" y="438" text-anchor="end">1.5</text><text class="t" x="508.12" y="438" text-anchor="end">2.0</text><text class="a" x="446.2" y="448" text-anchor="middle">Log concentration (μM)</text><text class="a" transform="translate(353.4 387.55) rotate(-90)" text-anchor="middle">Cell viability (%)</text><text class="h" x="407.6" y="335.7">H12-7 - FGFR (+)</text><text class="n" x="411.8" y="421.52">IC50: 23.51 μM</text><path class="cl" d="M391.9 380.84L392.8 380.99L393.7 381.15L394.6 381.31L395.5 381.46L396.4 381.62L397.3 381.78L398.2 381.95L399.1 382.11L400 382.27L400.9 382.44L401.8 382.6L402.7 382.77L403.6 382.94L404.5 383.11L405.4 383.28L406.3 383.46L407.2 383.63L408.1 383.81L409 383.98L409.9 384.16L410.79 384.34L411.69 384.52L412.59 384.71L413.49 384.89L414.39 385.07L415.29 385.26L416.19 385.45L417.09 385.64L417.99 385.83L418.89 386.02L419.79 386.21L420.69 386.41L421.59 386.6L422.49 386.8L423.39 387L424.29 387.2L425.19 387.4L426.09 387.6L426.99 387.8L427.89 388.01L428.79 388.21L429.69 388.42L430.59 388.63L431.49 388.84L432.39 389.05L433.29 389.26L434.19 389.48L435.09 389.69L435.99 389.91L436.86 390.12L437.74 390.34L438.61 390.55L439.49 390.77L440.36 390.98L441.24 391.2L442.11 391.42L442.99 391.64L443.86 391.86L444.74 392.09L445.61 392.31L446.49 392.54L447.36 392.76L448.24 392.99L449.11 393.22L449.98 393.45L450.86 393.68L451.73 393.91L452.61 394.15L453.48 394.38L454.36 394.62L455.23 394.86L456.11 395.1L456.98 395.34L457.86 395.58L458.73 395.82L459.61 396.06L460.48 396.3L461.36 396.55L462.23 396.8L463.11 397.04L463.98 397.29L464.86 397.54L465.73 397.79L466.61 398.04L467.48 398.3L468.35 398.55L469.23 398.81L470.1 399.06L470.98 399.32L471.85 399.58L472.73 399.83L473.6 400.09L474.48 400.36L475.35 400.62L476.23 400.88L477.1 401.14L477.98 401.41L478.85 401.67L479.73 401.94L480.6 402.21L481.48 402.48L482.35 402.74L483.23 403.01L484.1 403.28L484.98 403.56L485.85 403.83L486.2 403.94"/><path class="eb" d="M392.82 380.7V389.6M391.02 380.7h3.6M391.02 389.6h3.6M399.3 381.5V387.6M397.5 381.5h3.6M397.5 387.6h3.6M435.51 382.3V386.9M433.71 382.3h3.6M433.71 386.9h3.6"/><g class="mk"><path d="M392.82 384.04L394.08 385.3L392.82 386.56L391.56 385.3Z"/><path d="M399.3 383.34L400.56 384.6L399.3 385.86L398.04 384.6Z"/><path d="M419.92 386.64L421.18 387.9L419.92 389.16L418.66 387.9Z"/><path d="M435.51 383.34L436.77 384.6L435.51 385.86L434.25 384.6Z"/><path d="M451.1 388.34L452.36 389.6L451.1 390.86L449.84 389.6Z"/><path d="M471.72 397.54L472.98 398.8L471.72 400.06L470.46 398.8Z"/><path d="M487.31 408.94L488.57 410.2L487.31 411.46L486.05 410.2Z"/></g></g>
<g><path class="ax" d="M548.4 341.5V428.3H677.9M544.9 428.3H548.4M544.9 399.37H548.4M544.9 370.43H548.4M544.9 341.5H548.4M548.4 428.3v3.8M574.3 428.3v3.8M600.2 428.3v3.8M626.1 428.3v3.8M652 428.3v3.8M677.9 428.3v3.8"/><text class="t" x="543.7" y="431.17" text-anchor="end">0</text><text class="t" x="543.7" y="402.24" text-anchor="end">50</text><text class="t" x="543.7" y="373.3" text-anchor="end">100</text><text class="t" x="543.7" y="344.37" text-anchor="end">150</text><text class="t" x="554.32" y="439.1" text-anchor="end">-0.5</text><text class="t" x="580.22" y="439.1" text-anchor="end">0.0</text><text class="t" x="606.12" y="439.1" text-anchor="end">0.5</text><text class="t" x="632.02" y="439.1" text-anchor="end">1.0</text><text class="t" x="657.92" y="439.1" text-anchor="end">1.5</text><text class="t" x="683.82" y="439.1" text-anchor="end">2.0</text><text class="a" x="611.6" y="448.7" text-anchor="middle">Log concentration (μM)</text><text class="a" transform="translate(528.2 384.65) rotate(-90)" text-anchor="middle">Cell viability (%)</text><text class="h" x="566.8" y="335.7">H12-28 - FGFR (-)</text><text class="n" x="581.5" y="420.82">IC50: 55.79 μM</text><path class="cl" d="M567.7 370.63L568.6 370.63L569.5 370.63L570.4 370.63L571.3 370.63L572.2 370.63L573.1 370.63L574 370.63L574.9 370.63L575.8 370.63L576.7 370.63L577.6 370.63L578.5 370.63L579.4 370.63L580.3 370.63L581.2 370.63L582.1 370.63L583 370.63L583.9 370.63L584.8 370.63L585.7 370.63L586.6 370.63L587.5 370.63L588.4 370.63L589.3 370.63L590.2 370.63L591.1 370.63L592 370.63L592.9 370.63L593.8 370.63L594.7 370.63L595.6 370.63L596.5 370.63L597.4 370.63L598.3 370.63L599.2 370.63L600.1 370.64L601 370.64L601.9 370.64L602.8 370.64L603.7 370.64L604.6 370.64L605.5 370.64L606.4 370.64L607.3 370.64L608.2 370.65L609.1 370.65L610 370.65L610.9 370.65L611.8 370.66L612.7 370.66L613.6 370.66L614.5 370.67L615.4 370.67L616.3 370.68L617.2 370.69L618.1 370.69L619 370.7L619.9 370.71L620.8 370.72L621.7 370.73L622.6 370.75L623.5 370.76L624.4 370.78L625.3 370.8L626.2 370.83L627.1 370.85L628 370.88L628.9 370.92L629.8 370.96L630.7 371L631.6 371.05L632.5 371.1L633.4 371.17L634.3 371.24L635.2 371.32L636.1 371.41L637 371.52L637.9 371.64L638.8 371.77L639.7 371.92L640.6 372.09L641.5 372.29L642.38 372.5L643.25 372.74L644.12 373.01L645 373.31L645.85 373.64L646.7 374L647.52 374.4L648.32 374.82L649.12 375.29L649.9 375.79L650.65 376.32L651.38 376.88L652.07 377.47L652.75 378.09L653.4 378.73L654.02 379.39L654.62 380.06L655.22 380.78L655.8 381.51L656.35 382.26L656.88 383L657.4 383.79L657.9 384.57L658.38 385.35L658.85 386.16L659.3 386.96L659.75 387.78L660.17 388.59L660.6 389.42L661 390.23L661.4 391.06L661.8 391.91L662.2 392.78L662.3 393"/><path class="eb" d="M567.82 372V378M566.02 372h3.6M566.02 378h3.6M574.3 371.2V375.5M572.5 371.2h3.6M572.5 375.5h3.6M594.92 370V375.5M593.12 370h3.6M593.12 375.5h3.6M610.51 371.2V380.5M608.71 371.2h3.6M608.71 380.5h3.6M646.72 369.5V376.2M644.92 369.5h3.6M644.92 376.2h3.6M662.31 390V395.5M660.51 390h3.6M660.51 395.5h3.6"/><g class="mk"><rect x="566.32" y="373" width="3" height="3"/><rect x="572.8" y="372" width="3" height="3"/><rect x="593.42" y="371.2" width="3" height="3"/><rect x="609.01" y="374.2" width="3" height="3"/><rect x="624.6" y="365.7" width="3" height="3"/><rect x="645.22" y="371.2" width="3" height="3"/><rect x="660.81" y="391.7" width="3" height="3"/></g></g>
<g><path class="ax" d="M44.6 501.5V586.45H171.9M41.1 586.45H44.6M41.1 558.13H44.6M41.1 529.82H44.6M41.1 501.5H44.6M44.6 586.45v3.8M70.06 586.45v3.8M95.52 586.45v3.8M120.98 586.45v3.8M146.44 586.45v3.8M171.9 586.45v3.8"/><text class="t" x="39.7" y="589.62" text-anchor="end">0</text><text class="t" x="39.7" y="561.3" text-anchor="end">50</text><text class="t" x="39.7" y="532.99" text-anchor="end">100</text><text class="t" x="39.7" y="504.67" text-anchor="end">150</text><text class="t" x="50.02" y="599.5" text-anchor="end">-0.5</text><text class="t" x="75.48" y="599.5" text-anchor="end">0.0</text><text class="t" x="100.94" y="599.5" text-anchor="end">0.5</text><text class="t" x="126.4" y="599.5" text-anchor="end">1.0</text><text class="t" x="151.86" y="599.5" text-anchor="end">1.5</text><text class="t" x="177.32" y="599.5" text-anchor="end">2.0</text><text class="a" x="108.6" y="610.5" text-anchor="middle">Log concentration (μM)</text><text class="a" transform="translate(23.1 545.25) rotate(-90)" text-anchor="middle">Cell viability (%)</text><text class="h" x="64.3" y="498.7">H12-5 - FGFR (+)</text><text class="n" x="87.2" y="578.82">IC50 NR</text><path class="cd" d="M64 530L157 530"/><path class="eb" d="M90.33 524.5V528M88.53 524.5h3.6M88.53 528h3.6M105.65 523.5V527.5M103.85 523.5h3.6M103.85 527.5h3.6M120.98 521.2V527M119.18 521.2h3.6M119.18 527h3.6M141.25 519V528M139.45 519h3.6M139.45 528h3.6M156.57 520V527M154.77 520h3.6M154.77 527h3.6"/><g class="mk"><circle cx="63.7" cy="527.7" r="1.75"/><circle cx="70.06" cy="526.5" r="1.75"/><circle cx="90.33" cy="526.2" r="1.75"/><circle cx="105.65" cy="525.5" r="1.75"/><circle cx="120.98" cy="524.2" r="1.75"/><circle cx="141.25" cy="523.7" r="1.75"/><circle cx="156.57" cy="523.7" r="1.75"/></g></g>
<g><path class="ax" d="M205.1 500.5V585.4H331.6M201.6 585.4H205.1M201.6 557.1H205.1M201.6 528.8H205.1M201.6 500.5H205.1M205.1 585.4v3.8M230.4 585.4v3.8M255.7 585.4v3.8M281 585.4v3.8M306.3 585.4v3.8M331.6 585.4v3.8"/><text class="t" x="200.3" y="588.22" text-anchor="end">0</text><text class="t" x="200.3" y="559.92" text-anchor="end">50</text><text class="t" x="200.3" y="531.62" text-anchor="end">100</text><text class="t" x="200.3" y="503.32" text-anchor="end">150</text><text class="t" x="210.12" y="596.7" text-anchor="end">-0.5</text><text class="t" x="235.42" y="596.7" text-anchor="end">0.0</text><text class="t" x="260.72" y="596.7" text-anchor="end">0.5</text><text class="t" x="286.02" y="596.7" text-anchor="end">1.0</text><text class="t" x="311.32" y="596.7" text-anchor="end">1.5</text><text class="t" x="336.62" y="596.7" text-anchor="end">2.0</text><text class="a" x="273.4" y="608.7" text-anchor="middle">Log concentration (μM)</text><text class="a" transform="translate(183.4 542.75) rotate(-90)" text-anchor="middle">Cell viability (%)</text><text class="h" x="227.4" y="498.7">H12-31 - FGFR (+)</text><text class="n" x="245.9" y="578.82">IC50: 46.14 μM</text><path class="cs" d="M224.4 534.24L225.3 534.33L226.2 534.41L227.1 534.5L228 534.6L228.9 534.69L229.8 534.79L230.7 534.88L231.6 534.98L232.5 535.09L233.4 535.19L234.3 535.3L235.2 535.41L236.1 535.52L237 535.63L237.9 535.75L238.8 535.87L239.7 535.99L240.6 536.11L241.5 536.24L242.4 536.37L243.29 536.5L244.19 536.63L245.09 536.77L245.99 536.91L246.89 537.05L247.79 537.19L248.69 537.34L249.59 537.49L250.49 537.65L251.39 537.8L252.29 537.96L253.19 538.12L254.09 538.29L254.99 538.46L255.89 538.63L256.79 538.8L257.69 538.98L258.59 539.16L259.49 539.35L260.39 539.54L261.29 539.73L262.19 539.92L263.09 540.12L263.99 540.32L264.89 540.52L265.79 540.73L266.69 540.94L267.59 541.15L268.49 541.37L269.36 541.59L270.24 541.8L271.11 542.02L271.99 542.25L272.86 542.48L273.74 542.71L274.61 542.94L275.49 543.18L276.36 543.42L277.24 543.66L278.11 543.91L278.99 544.16L279.86 544.41L280.73 544.67L281.61 544.92L282.48 545.19L283.36 545.45L284.23 545.72L285.11 545.99L285.98 546.26L286.86 546.54L287.73 546.82L288.61 547.1L289.48 547.39L290.36 547.68L291.23 547.97L292.11 548.26L292.98 548.55L293.86 548.85L294.73 549.15L295.61 549.46L296.46 549.75L297.31 550.05L298.16 550.35L299.01 550.65L299.85 550.96L300.7 551.27L301.55 551.57L302.4 551.88L303.25 552.19L304.1 552.51L304.95 552.82L305.8 553.14L306.65 553.46L307.5 553.77L308.35 554.09L309.2 554.41L310.05 554.73L310.9 555.06L311.75 555.38L312.6 555.7L313.45 556.03L314.3 556.35L315.15 556.68L316 557L316.85 557.33L317.7 557.65L317.8 557.69"/><path class="eb" d="M224.07 535.2V541.1M222.27 535.2h3.6M222.27 541.1h3.6M230.4 534.5V543.2M228.6 534.5h3.6M228.6 543.2h3.6M250.54 534.5V543.7M248.74 534.5h3.6M248.74 543.7h3.6M265.77 533V540.3M263.97 533h3.6M263.97 540.3h3.6M281 538.4V546.6M279.2 538.4h3.6M279.2 546.6h3.6M301.14 548.4V552.7M299.34 548.4h3.6M299.34 552.7h3.6M316.37 557.8V564.4M314.57 557.8h3.6M314.57 564.4h3.6"/><g class="mk"><path d="M224.07 537L225.97 540.42L222.17 540.42Z"/><path d="M230.4 537.3L232.3 540.72L228.5 540.72Z"/><path d="M250.54 537.7L252.44 541.12L248.64 541.12Z"/><path d="M265.77 534.8L267.67 538.22L263.87 538.22Z"/><path d="M281 540.6L282.9 544.02L279.1 544.02Z"/><path d="M301.14 548.9L303.04 552.32L299.24 552.32Z"/><path d="M316.37 558.9L318.27 562.32L314.47 562.32Z"/></g></g>
<g><path class="ax" d="M378.4 500.5V586.2H506.4M374.9 586.2H378.4M374.9 557.63H378.4M374.9 529.07H378.4M374.9 500.5H378.4M378.4 586.2v3.8M404 586.2v3.8M429.6 586.2v3.8M455.2 586.2v3.8M480.8 586.2v3.8M506.4 586.2v3.8"/><text class="t" x="373.5" y="588.97" text-anchor="end">0</text><text class="t" x="373.5" y="560.4" text-anchor="end">50</text><text class="t" x="373.5" y="531.84" text-anchor="end">100</text><text class="t" x="373.5" y="503.27" text-anchor="end">150</text><text class="t" x="383.32" y="597.8" text-anchor="end">-0.5</text><text class="t" x="408.92" y="597.8" text-anchor="end">0.0</text><text class="t" x="434.52" y="597.8" text-anchor="end">0.5</text><text class="t" x="460.12" y="597.8" text-anchor="end">1.0</text><text class="t" x="485.72" y="597.8" text-anchor="end">1.5</text><text class="t" x="511.32" y="597.8" text-anchor="end">2.0</text><text class="a" x="449.9" y="607.5" text-anchor="middle">Log concentration (μM)</text><text class="a" transform="translate(357 543.95) rotate(-90)" text-anchor="middle">Cell viability (%)</text><text class="h" x="407.1" y="498.7">H12-7 - FGFR (+)</text><text class="n" x="413.1" y="578.62">IC50: 6.79 μM</text><path class="cl" d="M397.7 546.1L491.2 567.9"/><path class="eb" d="M404 548.9V552.3M402.2 548.9h3.6M402.2 552.3h3.6M424.38 550.4V553.5M422.58 550.4h3.6M422.58 553.5h3.6"/><g class="mk"><path d="M397.6 547.94L398.86 549.2L397.6 550.46L396.34 549.2Z"/><path d="M404 549.44L405.26 550.7L404 551.96L402.74 550.7Z"/><path d="M424.38 550.74L425.64 552L424.38 553.26L423.12 552Z"/><path d="M439.79 551.74L441.05 553L439.79 554.26L438.53 553Z"/><path d="M455.2 553.34L456.46 554.6L455.2 555.86L453.94 554.6Z"/><path d="M475.58 561.74L476.84 563L475.58 564.26L474.32 563Z"/><path d="M490.99 572.14L492.25 573.4L490.99 574.66L489.73 573.4Z"/></g></g>
<g><path class="ax" d="M552.2 500.5V585.45H678.7M548.7 585.45H552.2M548.7 557.13H552.2M548.7 528.82H552.2M548.7 500.5H552.2M552.2 585.45v3.8M577.5 585.45v3.8M602.8 585.45v3.8M628.1 585.45v3.8M653.4 585.45v3.8M678.7 585.45v3.8"/><text class="t" x="547.4" y="588.67" text-anchor="end">0</text><text class="t" x="547.4" y="560.35" text-anchor="end">50</text><text class="t" x="547.4" y="532.04" text-anchor="end">100</text><text class="t" x="547.4" y="503.72" text-anchor="end">150</text><text class="t" x="557.92" y="597.3" text-anchor="end">-0.5</text><text class="t" x="583.22" y="597.3" text-anchor="end">0.0</text><text class="t" x="608.52" y="597.3" text-anchor="end">0.5</text><text class="t" x="633.82" y="597.3" text-anchor="end">1.0</text><text class="t" x="659.12" y="597.3" text-anchor="end">1.5</text><text class="t" x="684.42" y="597.3" text-anchor="end">2.0</text><text class="a" x="614.6" y="608" text-anchor="middle">Log concentration (μM)</text><text class="a" transform="translate(531 544.25) rotate(-90)" text-anchor="middle">Cell viability (%)</text><text class="h" x="567.8" y="498.7">H12-28 - FGFR (-)</text><text class="n" x="585.2" y="579.52">IC50: 50.68 μM</text><path class="cl" d="M571.4 529.2L572.32 529.2L573.23 529.2L574.15 529.2L575.07 529.2L575.98 529.2L576.9 529.2L577.82 529.2L578.73 529.2L579.65 529.2L580.57 529.2L581.48 529.2L582.4 529.2L583.32 529.2L584.23 529.2L585.15 529.2L586.07 529.2L586.98 529.2L587.9 529.2L588.82 529.2L589.73 529.2L590.65 529.2L591.57 529.2L592.48 529.2L593.4 529.2L594.32 529.2L595.23 529.2L596.15 529.2L597.07 529.2L597.98 529.2L598.9 529.2L599.82 529.2L600.73 529.2L601.65 529.2L602.57 529.2L603.48 529.2L604.4 529.2L605.32 529.2L606.23 529.2L607.15 529.2L608.07 529.2L609 529.2L609.92 529.2L610.82 529.2L611.72 529.2L612.62 529.21L613.52 529.21L614.42 529.22L615.32 529.23L616.22 529.24L617.12 529.25L618.02 529.26L618.92 529.28L619.82 529.29L620.72 529.31L621.62 529.33L622.52 529.34L623.42 529.36L624.32 529.38L625.22 529.41L626.12 529.44L627.02 529.48L627.92 529.53L628.82 529.6L629.72 529.67L630.62 529.75L631.52 529.84L632.42 529.94L633.32 530.04L634.22 530.15L635.12 530.26L636.02 530.39L636.92 530.53L637.82 530.69L638.72 530.87L639.62 531.08L640.5 531.3L641.38 531.54L642.25 531.81L643.12 532.1L643.97 532.41L644.82 532.78L645.62 533.24L646.38 533.75L647.1 534.3L647.8 534.87L648.5 535.46L649.2 536.05L649.9 536.63L650.6 537.24L651.27 537.84L651.95 538.46L652.62 539.11L653.27 539.75L653.92 540.42L654.55 541.08L655.17 541.77L655.77 542.45L656.38 543.15L656.95 543.85L657.52 544.57L658.07 545.3L658.62 546.05L659.15 546.78L659.67 547.54L660.2 548.32L660.7 549.09L661.2 549.87L661.7 550.67L662.17 551.44L662.65 552.23L663.12 553.04L663.6 553.85L663.8 554.2"/><path class="eb" d="M571.18 525.5V528.7M569.38 525.5h3.6M569.38 528.7h3.6M577.5 522.5V526.5M575.7 522.5h3.6M575.7 526.5h3.6M628.1 521.7V525.5M626.3 521.7h3.6M626.3 525.5h3.6M648.24 534V540.5M646.44 534h3.6M646.44 540.5h3.6M663.47 552V559.2M661.67 552h3.6M661.67 559.2h3.6"/><g class="mk"><rect x="569.68" y="525.5" width="3" height="3"/><rect x="576" y="523" width="3" height="3"/><rect x="596.14" y="521.2" width="3" height="3"/><rect x="611.37" y="520.2" width="3" height="3"/><rect x="626.6" y="522.2" width="3" height="3"/><rect x="646.74" y="535.9" width="3" height="3"/><rect x="661.97" y="554.5" width="3" height="3"/></g></g>
<g><path class="ax" d="M45.6 666.5V751.45H174M42.1 751.45H45.6M42.1 723.13H45.6M42.1 694.82H45.6M42.1 666.5H45.6M45.6 751.45v3.8M71.28 751.45v3.8M96.96 751.45v3.8M122.64 751.45v3.8M148.32 751.45v3.8M174 751.45v3.8"/><text class="t" x="41.2" y="754.42" text-anchor="end">0</text><text class="t" x="41.2" y="726.1" text-anchor="end">50</text><text class="t" x="41.2" y="697.79" text-anchor="end">100</text><text class="t" x="41.2" y="669.47" text-anchor="end">150</text><text class="t" x="51.32" y="764.1" text-anchor="end">-0.5</text><text class="t" x="77" y="764.1" text-anchor="end">0.0</text><text class="t" x="102.68" y="764.1" text-anchor="end">0.5</text><text class="t" x="128.36" y="764.1" text-anchor="end">1.0</text><text class="t" x="154.04" y="764.1" text-anchor="end">1.5</text><text class="t" x="179.72" y="764.1" text-anchor="end">2.0</text><text class="a" x="108.3" y="773.7" text-anchor="middle">Log concentration (μM)</text><text class="a" transform="translate(25 709.65) rotate(-90)" text-anchor="middle">Cell viability (%)</text><text class="h" x="67.5" y="662">H12-31 - FGFR (+)</text><text class="n" x="86.7" y="743.12">IC50: 15.04 μM</text><path class="cs" d="M64.6 698.33L65.5 698.43L66.4 698.54L67.3 698.64L68.2 698.75L69.1 698.87L70 698.99L70.9 699.11L71.8 699.23L72.7 699.36L73.6 699.5L74.5 699.63L75.4 699.77L76.3 699.92L77.2 700.07L78.1 700.23L79 700.39L79.9 700.55L80.8 700.72L81.7 700.89L82.6 701.07L83.49 701.26L84.39 701.45L85.29 701.64L86.19 701.85L87.09 702.05L87.99 702.27L88.87 702.48L89.74 702.7L90.62 702.92L91.49 703.15L92.37 703.39L93.24 703.63L94.12 703.88L94.99 704.13L95.87 704.39L96.74 704.66L97.62 704.93L98.49 705.21L99.37 705.5L100.24 705.79L101.12 706.1L101.96 706.39L102.81 706.7L103.66 707.01L104.51 707.33L105.36 707.66L106.21 707.99L107.06 708.33L107.91 708.67L108.76 709.03L109.61 709.39L110.46 709.75L111.29 710.11L112.11 710.48L112.94 710.86L113.76 711.24L114.59 711.62L115.41 712.02L116.24 712.42L117.06 712.82L117.89 713.23L118.71 713.65L119.54 714.08L120.33 714.49L121.13 714.91L121.93 715.34L122.73 715.77L123.53 716.21L124.33 716.65L125.13 717.1L125.93 717.55L126.73 718.01L127.53 718.47L128.33 718.93L129.13 719.4L129.93 719.87L130.71 720.33L131.48 720.79L132.26 721.26L133.03 721.73L133.81 722.2L134.58 722.68L135.36 723.16L136.13 723.64L136.91 724.12L137.68 724.6L138.46 725.08L139.23 725.57L140 726.06L140.78 726.54L141.55 727.03L142.33 727.52L143.1 728.01L143.88 728.5L144.65 728.98L145.43 729.47L146.2 729.96L146.98 730.44L147.75 730.93L148.53 731.41L149.3 731.89L150.08 732.37L150.85 732.85L151.63 733.33L152.4 733.8L153.18 734.27L153.95 734.74L154.73 735.2L155.5 735.66L156.28 736.12L157.08 736.59L157.3 736.72"/><path class="eb" d="M64.86 697V700.5M63.06 697h3.6M63.06 700.5h3.6M71.28 700V712.2M69.48 700h3.6M69.48 712.2h3.6M91.72 700.4V708.7M89.92 700.4h3.6M89.92 708.7h3.6M107.18 703.5V714.8M105.38 703.5h3.6M105.38 714.8h3.6M122.64 712.7V716.1M120.84 712.7h3.6M120.84 716.1h3.6M143.08 723V731.4M141.28 723h3.6M141.28 731.4h3.6"/><g class="mk"><path d="M64.86 696.8L66.76 700.22L62.96 700.22Z"/><path d="M71.28 704.7L73.18 708.12L69.38 708.12Z"/><path d="M91.72 703L93.62 706.42L89.82 706.42Z"/><path d="M107.18 707.7L109.08 711.12L105.28 711.12Z"/><path d="M122.64 712.6L124.54 716.02L120.74 716.02Z"/><path d="M143.08 725.7L144.98 729.12L141.18 729.12Z"/><path d="M158.54 741.4L160.44 744.82L156.64 744.82Z"/></g></g>
<g><path class="ax" d="M271.9 666.6V751.8H400.4M268.4 751.8H271.9M268.4 723.4H271.9M268.4 695H271.9M268.4 666.6H271.9M271.9 751.8v3.8M297.6 751.8v3.8M323.3 751.8v3.8M349 751.8v3.8M374.7 751.8v3.8M400.4 751.8v3.8"/><text class="t" x="266.5" y="754.62" text-anchor="end">0</text><text class="t" x="266.5" y="726.22" text-anchor="end">50</text><text class="t" x="266.5" y="697.82" text-anchor="end">100</text><text class="t" x="266.5" y="669.42" text-anchor="end">150</text><text class="t" x="277.32" y="764.1" text-anchor="end">-0.5</text><text class="t" x="303.02" y="764.1" text-anchor="end">0.0</text><text class="t" x="328.72" y="764.1" text-anchor="end">0.5</text><text class="t" x="354.42" y="764.1" text-anchor="end">1.0</text><text class="t" x="380.12" y="764.1" text-anchor="end">1.5</text><text class="t" x="405.82" y="764.1" text-anchor="end">2.0</text><text class="a" x="334" y="773" text-anchor="middle">Log concentration (μM)</text><text class="a" transform="translate(250.9 709.65) rotate(-90)" text-anchor="middle">Cell viability (%)</text><text class="h" x="292.4" y="662">H12-5 - FGFR (+)</text><text class="n" x="305" y="743.12">IC50: 47.85 μM</text><path class="cf" d="M291.1 701.06L292 701.18L292.9 701.3L293.8 701.41L294.7 701.54L295.6 701.66L296.5 701.78L297.4 701.91L298.3 702.03L299.2 702.16L300.1 702.29L301 702.42L301.9 702.55L302.8 702.69L303.7 702.83L304.6 702.96L305.5 703.1L306.4 703.24L307.3 703.38L308.2 703.53L309.1 703.67L309.99 703.82L310.89 703.97L311.79 704.12L312.69 704.27L313.59 704.43L314.49 704.58L315.39 704.74L316.29 704.9L317.19 705.06L318.09 705.22L318.99 705.39L319.89 705.56L320.79 705.72L321.69 705.89L322.59 706.07L323.49 706.24L324.39 706.42L325.29 706.6L326.19 706.78L327.09 706.96L327.99 707.14L328.89 707.33L329.79 707.52L330.69 707.71L331.59 707.9L332.49 708.09L333.39 708.29L334.29 708.49L335.19 708.69L336.09 708.89L336.99 709.1L337.89 709.3L338.79 709.51L339.69 709.72L340.59 709.94L341.49 710.15L342.36 710.37L343.24 710.58L344.11 710.8L344.99 711.01L345.86 711.24L346.74 711.46L347.61 711.68L348.48 711.91L349.36 712.14L350.23 712.37L351.11 712.61L351.98 712.84L352.86 713.08L353.73 713.32L354.61 713.57L355.48 713.81L356.36 714.06L357.23 714.31L358.11 714.56L358.98 714.82L359.86 715.07L360.73 715.33L361.61 715.6L362.48 715.86L363.36 716.13L364.23 716.4L365.11 716.67L365.98 716.94L366.85 717.22L367.73 717.5L368.6 717.78L369.48 718.07L370.35 718.35L371.23 718.64L372.1 718.93L372.98 719.23L373.85 719.52L374.73 719.82L375.6 720.13L376.48 720.43L377.33 720.73L378.18 721.03L379.03 721.33L379.88 721.64L380.73 721.95L381.58 722.26L382.43 722.57L383.28 722.88L384.13 723.2L384.6 723.38"/><path class="eb" d="M333.53 703.9V708M331.73 703.9h3.6M331.73 708h3.6M369.46 713.1V717.2M367.66 713.1h3.6M367.66 717.2h3.6"/><g class="mk"><circle cx="291.17" cy="705.7" r="1.75"/><circle cx="297.6" cy="706" r="1.75"/><circle cx="318.06" cy="705.4" r="1.75"/><circle cx="333.53" cy="706" r="1.75"/><circle cx="349" cy="706.8" r="1.75"/><circle cx="369.46" cy="715.2" r="1.75"/><circle cx="384.93" cy="730" r="1.75"/></g></g>
<text class="p" x="0.1" y="11.7">A</text>
<text class="p" x="-0.6" y="170.8">B</text>
<text class="p" x="-0.9" y="329.5">C</text>
<text class="p" x="1.8" y="489.2">D</text>
<text class="p" x="2" y="653.4">E</text>
<text class="p" x="234.9" y="653">F</text>
</svg>
</body></html>
